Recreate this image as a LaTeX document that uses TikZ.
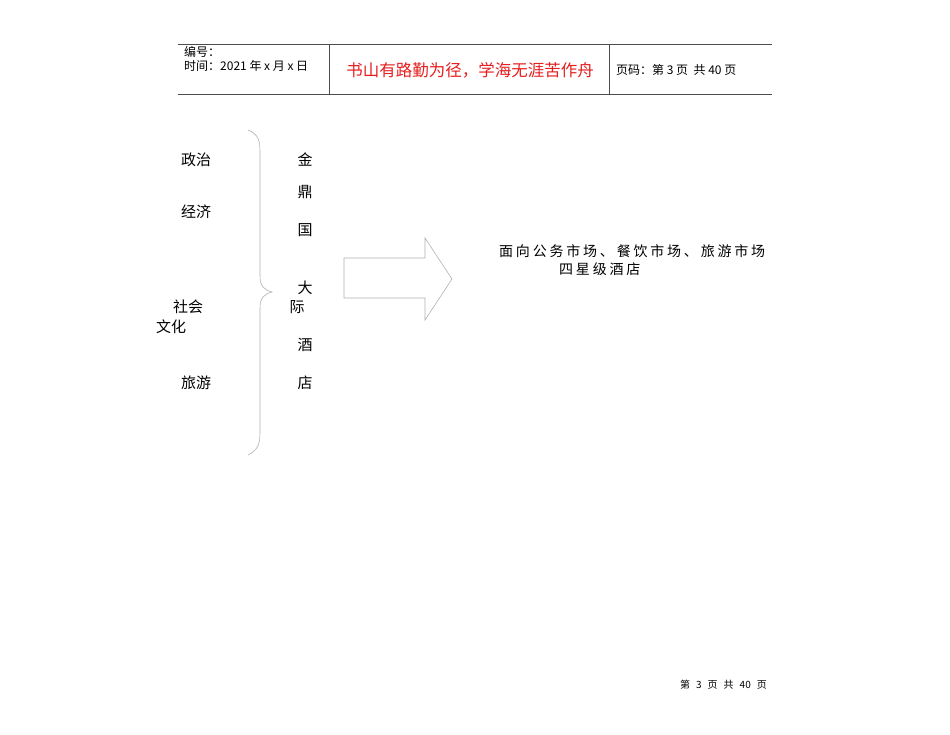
\documentclass[tikz,border=0pt]{standalone}
\usepackage{fontspec}
\setmainfont{Noto Sans CJK SC}
\newfontfamily\cjkwide[LetterSpace=20]{Noto Sans CJK SC}
\definecolor{mottored}{RGB}{230,30,30}
\begin{document}
\begin{tikzpicture}[x=1pt,y=-1pt]
\tikzstyle{rule}=[draw,black!70,line width=0.6pt]
\tikzstyle{head}=[font=\fontsize{12}{13}\selectfont,inner sep=0pt,anchor=west]
\tikzstyle{word}=[font=\fontsize{15}{16}\selectfont,inner sep=0pt]
\tikzstyle{outline}=[draw,black!30,line width=0.6pt]
\def \gap {\hspace{6pt}}
\useasboundingbox[fill=white] (0,0) rectangle (950,735);
% header
\draw[rule] (178,44) -- (772,44);
\draw[rule] (178,94) -- (772,94);
\draw[rule] (329,44) -- (329,94);
\draw[rule] (609,44) -- (609,94);
\node[head] (num) at (184,52) {编号：};
\node[head] (date) at (184,66) {时间：2021 年 x 月 x 日};
\node[font=\fontsize{16.5}{17}\selectfont,text=mottored,inner sep=0pt] (motto) at (470,70) {书山有路勤为径，学海无涯苦作舟};
\node[head] (page) at (616,70) {页码：第 3 页\ \ 共 40 页};
% factors
\node[word] (zz) at (196,160) {政治};
\node[word] (jj) at (196,212) {经济};
\node[word] (sh) at (188,307) {社会};
\node[word] (wh) at (171,327) {文化};
\node[word] (ly) at (196,383) {旅游};
% brace
\draw[outline] (248,130) .. controls (258,134) and (260,140) .. (260,152)
  -- (260,276) .. controls (260,286) and (264,290) .. (272,292)
  .. controls (264,294) and (260,298) .. (260,308)
  -- (260,432) .. controls (260,444) and (258,450) .. (248,455);
% hotel name
\node[word] (c1) at (305,160) {金};
\node[word] (c2) at (305,192) {鼎};
\node[word] (c3) at (305,230) {国};
\node[word] (c4) at (305,288) {大};
\node[word] (c5) at (297,307) {际};
\node[word] (c6) at (305,345) {酒};
\node[word] (c7) at (305,383) {店};
% arrow
\draw[outline] (344,258) -- (425,258) -- (425,238) -- (452,279)
  -- (425,320) -- (425,298) -- (344,298) -- cycle;
% target
\node[word,anchor=west,font=\fontsize{14}{15}\cjkwide] (mkt) at (499,251) {面向公务市场、餐饮市场、旅游市场};
\node[word,anchor=west,font=\fontsize{14}{15}\cjkwide] (star) at (559,269) {四星级酒店};
% footer
\node[font=\fontsize{10}{11}\selectfont,inner sep=0pt,anchor=east] (foot) at (767,685) {第\gap 3\gap 页\gap 共\gap 40\gap 页};
\end{tikzpicture}
\end{document}
